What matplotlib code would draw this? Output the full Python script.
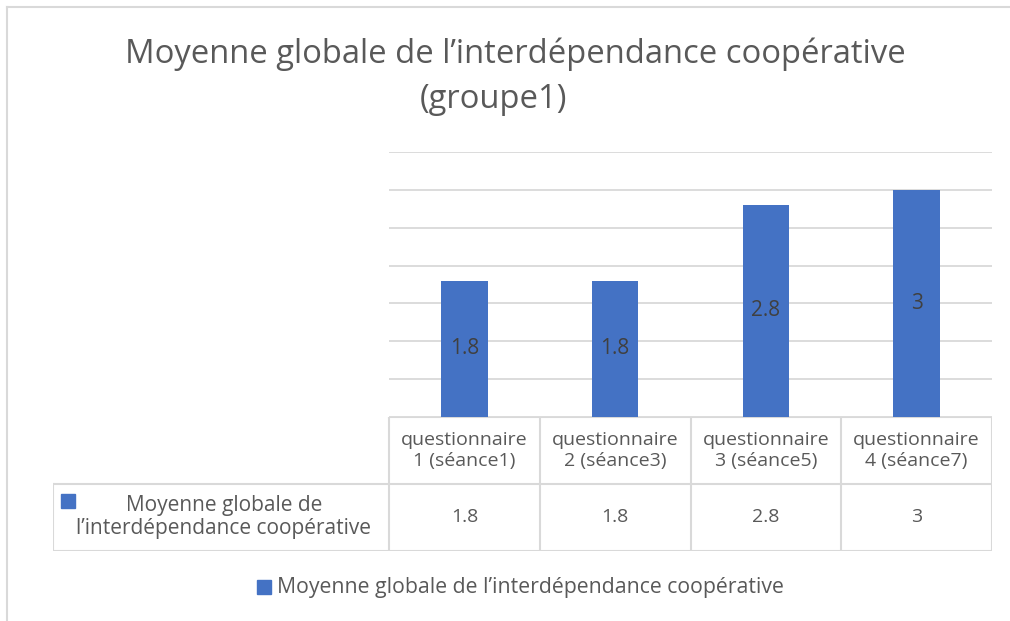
import matplotlib
matplotlib.use("Agg")
import matplotlib.pyplot as plt
from matplotlib.patches import Rectangle

categories = ["questionnaire\n1 (séance1)", "questionnaire\n2 (séance3)",
              "questionnaire\n3 (séance5)", "questionnaire\n4 (séance7)"]
values = [1.8, 1.8, 2.8, 3]
value_labels = ["1.8", "1.8", "2.8", "3"]
series_name = "Moyenne globale de l’interdépendance coopérative"
series_name_table = "Moyenne globale de\nl’interdépendance coopérative"
title_line1 = "Moyenne globale de l’interdépendance coopérative"
title_line2 = "(groupe1)"

W, H = 1010, 621
BLUE = "#4472C4"
GRID = "#D9D9D9"
TXT = "#595959"
FONT = "Open Sans"
plt.rcParams['font.family'] = [FONT, 'DejaVu Sans']

fig = plt.figure(figsize=(W / 100, H / 100), dpi=100)

def rect(x0, y0, x1, y1):
    return [x0 / W, 1 - y1 / H, (x1 - x0) / W, (y1 - y0) / H]

# outer chart border (partially visible)
fig.add_artist(plt.Line2D([7 / W, 1], [1 - 7 / H, 1 - 7 / H], color=GRID, lw=1.5))
fig.add_artist(plt.Line2D([7 / W, 7 / W], [0, 1 - 7 / H], color=GRID, lw=1.5))

# bars axes
ax = fig.add_axes(rect(389, 152, 992, 417))
x = list(range(len(values)))
bars = ax.bar(x, values, width=0.31, color=BLUE, zorder=3)
ax.set_xlim(-0.5, len(values) - 0.5)
ax.set_ylim(0, 3.5)
ax.set_yticks([i * 0.5 for i in range(8)])
ax.grid(axis='y', color=GRID, lw=1.3, zorder=0)
ax.tick_params(left=False, bottom=False, labelleft=False, labelbottom=False)
for s in ax.spines.values():
    s.set_visible(False)
for b, lab in zip(bars, value_labels):
    ax.text(b.get_x() + b.get_width() / 2, b.get_height() / 2, lab,
            ha='center', va='center', fontsize=15, color="#404040", zorder=4)

# table axes
label_w = (389 - 53) / ((992 - 389) / len(values))
tx = fig.add_axes(rect(53, 417, 992, 551))
tx.set_xlim(-0.5 - label_w, len(values) - 0.5)
tx.set_ylim(0, 2)
tx.axis('off')
n = len(values)
lk = dict(color=GRID, lw=1.5)
tx.plot([-0.5, n - 0.5], [2, 2], **lk)
tx.plot([-0.5 - label_w, n - 0.5], [1, 1], **lk)
tx.plot([-0.5 - label_w, n - 0.5], [0, 0], **lk)
for i in range(n + 1):
    tx.plot([i - 0.5, i - 0.5], [0, 2], **lk)
tx.plot([-0.5 - label_w, -0.5 - label_w], [0, 1], **lk)
for i, (c, lab) in enumerate(zip(categories, value_labels)):
    tx.text(i, 1.5, c, ha='center', va='center', fontsize=14, color=TXT,
            linespacing=1.15)
    tx.text(i, 0.5, lab, ha='center', va='center', fontsize=14, color=TXT)
fig.text(224 / W, 1 - 517 / H, series_name_table, ha='center', va='center',
         fontsize=15, color=TXT, linespacing=1.12)
fig.add_artist(Rectangle((61 / W, 1 - 508 / H), 14 / W, 14 / H, color=BLUE,
                         transform=fig.transFigure))

# title
fig.text(515 / W, 1 - 54 / H, title_line1, ha='center', va='center', fontsize=23.6,
         color=TXT)
fig.text(493 / W, 1 - 99 / H, title_line2, ha='center', va='center', fontsize=23.6,
         color=TXT)

# legend
fig.add_artist(Rectangle((257 / W, 1 - 594 / H), 14 / W, 14 / H, color=BLUE,
                         transform=fig.transFigure))
fig.text(277 / W, 1 - 587 / H, series_name, ha='left', va='center',
         fontsize=15.3, color=TXT)

fig.savefig("out.png", dpi=100, facecolor='white')
